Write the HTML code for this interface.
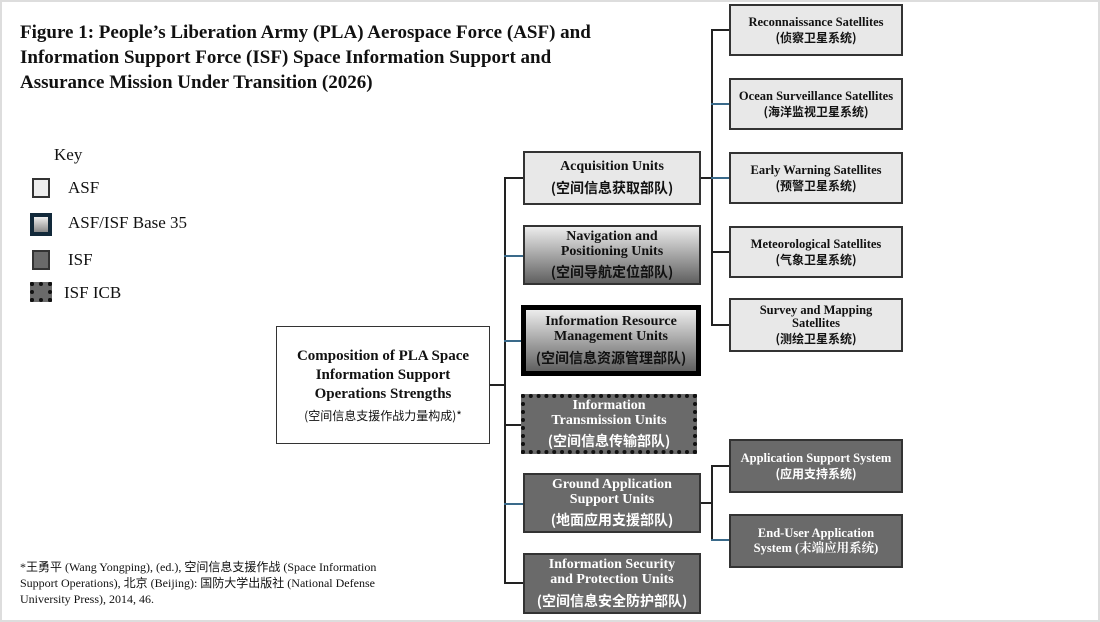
<!DOCTYPE html>
<html><head><meta charset="utf-8"><style>
body{margin:0;width:1100px;height:622px;background:#fff;position:relative;overflow:hidden;font-family:"Liberation Serif","Noto Serif CJK SC","Noto Sans CJK SC",serif;color:#111}
.a{position:absolute;box-sizing:border-box}
.b{position:absolute;box-sizing:border-box;display:flex;flex-direction:column;justify-content:center;align-items:center;text-align:center;font-weight:bold;line-height:1.05;border:2px solid #333}
.en{font-size:14px}
.cn{font-size:14px;margin-top:6px;font-family:"Noto Sans CJK SC",sans-serif}
.r .en{font-size:12.5px}.r .cn{font-size:12px;margin-top:3px}
.l{background:#e8e8e8}
.g{background:linear-gradient(#ececec,#606060)}
.d{background:#6a6a6a;color:#fff}
.ln{position:absolute;background:#222}
</style></head><body>
<div class="a" style="left:0;top:0;width:1100px;height:622px;border:2px solid #ddd"></div>
<div class="a" style="left:20px;top:20px;font-size:19px;font-weight:bold;line-height:25px;white-space:nowrap">Figure 1: People’s Liberation Army (PLA) Aerospace Force (ASF) and<br>Information Support Force (ISF) Space Information Support and<br>Assurance Mission Under Transition (2026)</div>
<div class="a" style="left:54px;top:145px;font-size:17px">Key</div>
<div class="a" style="left:32px;top:178px;width:18px;height:20px;border:2px solid #333;background:#eee"></div>
<div class="a" style="left:68px;top:178px;font-size:17px">ASF</div>
<div class="a" style="left:30px;top:213px;width:22px;height:23px;border:4px solid #12293a;background:linear-gradient(#eee,#888)"></div>
<div class="a" style="left:68px;top:213px;font-size:17px">ASF/ISF Base 35</div>
<div class="a" style="left:32px;top:250px;width:18px;height:20px;border:2px solid #333;background:#6a6a6a"></div>
<div class="a" style="left:68px;top:250px;font-size:17px">ISF</div>
<div class="a" style="left:30px;top:282px;width:22px;height:20px;border:4px dotted #111;background:#6a6a6a"></div>
<div class="a" style="left:64px;top:283px;font-size:17px">ISF ICB</div>
<div class="a" style="left:20px;top:559px;font-size:12px;line-height:16px;white-space:nowrap;font-family:'Liberation Serif','Noto Sans CJK SC',serif">*王勇平 (Wang Yongping), (ed.), 空间信息支援作战 (Space Information<br>Support Operations), 北京 (Beijing): 国防大学出版社 (National Defense<br>University Press), 2014, 46.</div>

<!-- connectors -->
<div class="ln" style="left:490px;top:384px;width:16px;height:2px"></div>
<div class="ln" style="left:504px;top:177px;width:2px;height:407px"></div>
<div class="ln" style="left:504px;top:177px;width:20px;height:2px"></div>
<div class="ln" style="left:504px;top:255px;width:20px;height:2px;background:#3a6a8a"></div>
<div class="ln" style="left:504px;top:340px;width:20px;height:2px;background:#3a6a8a"></div>
<div class="ln" style="left:504px;top:424px;width:20px;height:2px"></div>
<div class="ln" style="left:504px;top:503px;width:20px;height:2px;background:#3a6a8a"></div>
<div class="ln" style="left:504px;top:582px;width:20px;height:2px"></div>
<div class="ln" style="left:700px;top:177px;width:13px;height:2px"></div>
<div class="ln" style="left:711px;top:29px;width:2px;height:297px"></div>
<div class="ln" style="left:711px;top:29px;width:19px;height:2px"></div>
<div class="ln" style="left:711px;top:103px;width:19px;height:2px;background:#3a6a8a"></div>
<div class="ln" style="left:711px;top:177px;width:19px;height:2px;background:#3a6a8a"></div>
<div class="ln" style="left:711px;top:251px;width:19px;height:2px"></div>
<div class="ln" style="left:711px;top:324px;width:19px;height:2px"></div>
<div class="ln" style="left:700px;top:502px;width:13px;height:2px"></div>
<div class="ln" style="left:711px;top:465px;width:2px;height:76px"></div>
<div class="ln" style="left:711px;top:465px;width:19px;height:2px"></div>
<div class="ln" style="left:711px;top:539px;width:19px;height:2px;background:#3a6a8a"></div>

<div class="b" style="left:276px;top:326px;width:214px;height:118px;background:#fff;border-width:1px"><div class="en" style="font-size:15px;line-height:19px">Composition of PLA Space<br>Information Support<br>Operations Strengths</div><div class="cn" style="font-size:12px;font-weight:normal">(空间信息支援作战力量构成)*</div></div>

<div class="b l" style="left:523px;top:151px;width:178px;height:54px"><div class="en">Acquisition Units</div><div class="cn">(空间信息获取部队)</div></div>
<div class="b g" style="left:523px;top:225px;width:178px;height:60px"><div class="en">Navigation and<br>Positioning Units</div><div class="cn">(空间导航定位部队)</div></div>
<div class="b g" style="left:521px;top:305px;width:180px;height:71px;border:5px solid #000"><div class="en">Information Resource<br>Management Units</div><div class="cn">(空间信息资源管理部队)</div></div>
<div class="b d" style="left:521px;top:394px;width:176px;height:60px;border:4px dotted #111"><div class="en">Information<br>Transmission Units</div><div class="cn">(空间信息传输部队)</div></div>
<div class="b d" style="left:523px;top:473px;width:178px;height:60px"><div class="en">Ground Application<br>Support Units</div><div class="cn">(地面应用支援部队)</div></div>
<div class="b d" style="left:523px;top:553px;width:178px;height:61px"><div class="en">Information Security<br>and Protection Units</div><div class="cn">(空间信息安全防护部队)</div></div>

<div class="b l r" style="left:729px;top:4px;width:174px;height:52px"><div class="en">Reconnaissance Satellites</div><div class="cn">(侦察卫星系统)</div></div>
<div class="b l r" style="left:729px;top:78px;width:174px;height:52px"><div class="en">Ocean Surveillance Satellites</div><div class="cn">(海洋监视卫星系统)</div></div>
<div class="b l r" style="left:729px;top:152px;width:174px;height:52px"><div class="en">Early Warning Satellites</div><div class="cn">(预警卫星系统)</div></div>
<div class="b l r" style="left:729px;top:226px;width:174px;height:52px"><div class="en">Meteorological Satellites</div><div class="cn">(气象卫星系统)</div></div>
<div class="b l r" style="left:729px;top:298px;width:174px;height:54px"><div class="en">Survey and Mapping<br>Satellites</div><div class="cn">(测绘卫星系统)</div></div>
<div class="b d r" style="left:729px;top:439px;width:174px;height:54px"><div class="en">Application Support System</div><div class="cn">(应用支持系统)</div></div>
<div class="b d r" style="left:729px;top:514px;width:174px;height:54px"><div class="en" style="line-height:1.2">End-User Application<br>System (末端应用系统)</div></div>
</body></html>
